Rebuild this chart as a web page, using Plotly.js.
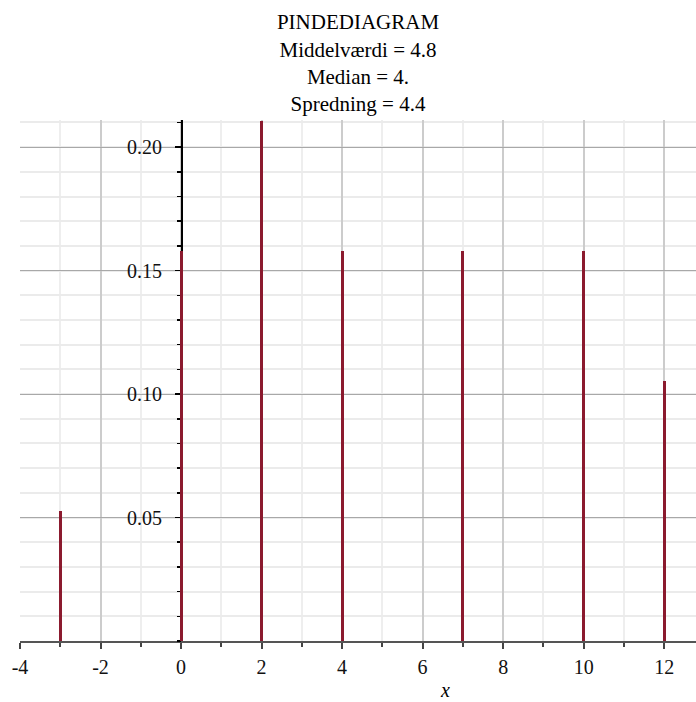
<!DOCTYPE html>
<html>
<head>
<meta charset="utf-8">
<script src="https://cdn.plot.ly/plotly-3.0.1.min.js"></script>
<style>html,body{margin:0;padding:0;background:#fff;}#chart{width:696px;height:702px;}</style>
</head>
<body>
<div id="chart"></div>
<script>
// Data
const xValues = [-3, 0, 2, 4, 7, 10, 12];
const probabilities = [0.0526, 0.1579, 0.2105, 0.1579, 0.1579, 0.1579, 0.1053];
const xTickVals = [-4, -2, 0, 2, 4, 6, 8, 10, 12];
const xTickText = ["-4", "-2", "0", "2", "4", "6", "8", "10", "12"];
const yTickVals = [0.05, 0.10, 0.15, 0.20];
const yTickText = ["0.05", "0.10", "0.15", "0.20"];
const titleLines = ["PINDEDIAGRAM", "Middelværdi = 4.8", "Median = 4.", "Spredning = 4.4"];

const serif = "Liberation Serif, Times New Roman, serif";
const stemColor = "#8B1A2E";

const trace = {
  type: "bar",
  x: xValues,
  y: probabilities,
  width: 0.075,
  marker: {color: stemColor, line: {width: 0}},
  hoverinfo: "x+y"
};

const layout = {
  width: 696,
  height: 702,
  margin: {l: 20, r: 0, t: 120, b: 61},
  paper_bgcolor: "#ffffff",
  plot_bgcolor: "#ffffff",
  showlegend: false,
  bargap: 0,
  title: {
    text: titleLines.join("<br>"),
    font: {family: serif, size: 21, color: "#000"},
    xref: "paper", x: 0.5, xanchor: "center",
    yref: "container", y: 0.958, yanchor: "top"
  },
  xaxis: {
    range: [-4, 12.79],
    tickmode: "array",
    tickvals: xTickVals,
    ticktext: xTickText,
    ticks: "outside",
    ticklen: 6,
    tickwidth: 2,
    tickcolor: "#444",
    ticklabelstandoff: 1,
    showline: true,
    linecolor: "#555",
    linewidth: 2,
    showgrid: true,
    gridcolor: "#cccccc",
    gridwidth: 2,
    zeroline: false,
    layer: "below traces",
    tickfont: {family: serif, size: 20, color: "#111"},
    minor: {
      tickmode: "linear", tick0: -3, dtick: 2,
      ticks: "outside", ticklen: 4, tickwidth: 2, tickcolor: "#444",
      showgrid: true, gridcolor: "#eeeeee", gridwidth: 2
    },
    fixedrange: true
  },
  yaxis: {
    range: [0, 0.211],
    anchor: "free",
    position: 0.2382,
    tickmode: "array",
    tickvals: yTickVals,
    ticktext: yTickText,
    ticks: "outside",
    ticklen: 6,
    tickwidth: 1.5,
    tickcolor: "#000",
    ticklabelstandoff: 9,
    showline: true,
    linecolor: "#000",
    linewidth: 1.5,
    showgrid: true,
    gridcolor: "#a8a8a8",
    gridwidth: 1,
    zeroline: false,
    layer: "below traces",
    tickfont: {family: serif, size: 20, color: "#111"},
    minor: {
      tickmode: "linear", tick0: 0, dtick: 0.01,
      ticks: "outside", ticklen: 4, tickwidth: 1.5, tickcolor: "#000",
      showgrid: true, gridcolor: "#ebebeb", gridwidth: 2
    },
    fixedrange: true
  },
  annotations: [{
    text: "<i>x</i>",
    xref: "paper", yref: "paper",
    x: 0.629, y: 0,
    xanchor: "center", yanchor: "middle",
    yshift: -49,
    showarrow: false,
    font: {family: serif, size: 20, color: "#000"}
  }]
};

Plotly.newPlot("chart", [trace], layout, {displayModeBar: false, staticPlot: true});
</script>
</body>
</html>
